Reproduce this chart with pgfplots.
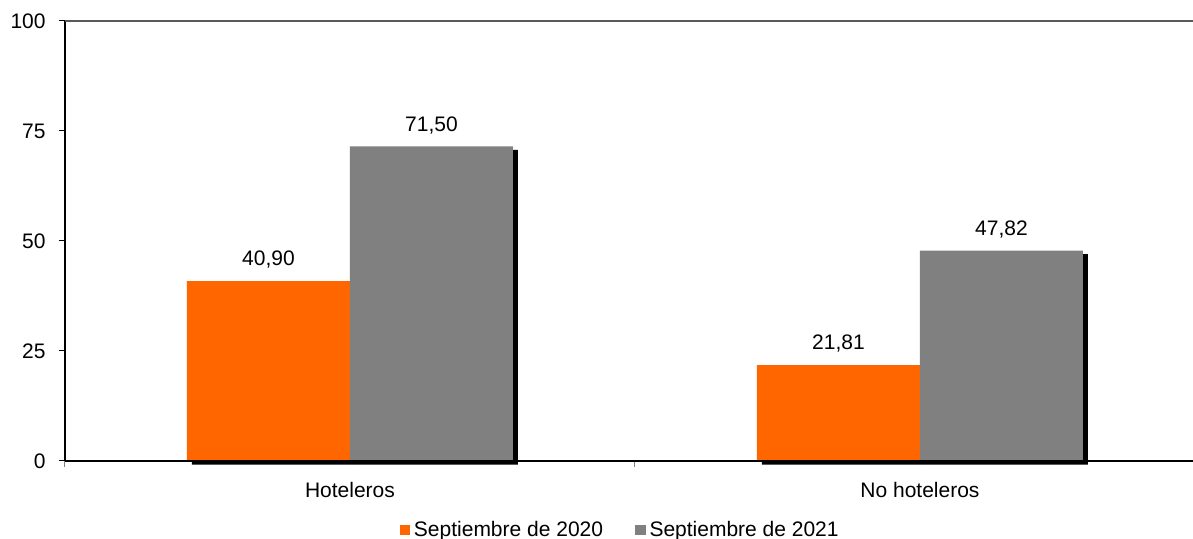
\documentclass[border=0pt]{standalone}
\usepackage{fontspec}
\setmainfont{Liberation Sans}
\usepackage{pgfplots}
\pgfplotsset{compat=1.18}
\definecolor{naranja}{HTML}{FF6600}
\definecolor{gris}{HTML}{808080}
\begin{document}
\fontsize{10.5}{12}\selectfont
\begin{tikzpicture}
\begin{axis}[
  name=ax,
  scale only axis, width=564pt, height=220pt,
  ybar, bar width=81.5pt,
  xmin=-0.5, xmax=1.479, ymin=0, ymax=100,
  clip=false,
  axis x line*=bottom, axis y line*=left,
  axis line style={black, line width=0.6pt},
  ytick={0,25,50,75,100},
  ytick style={black, line width=0.5pt},
  tick align=outside, major tick length=3pt,
  yticklabel style={xshift=-3pt},
  xtick={0,1}, xticklabels={Hoteleros, No hoteleros},
  xtick style={draw=none},
  xticklabel style={yshift=-4pt},
  extra x ticks={-0.5,0.5}, extra x tick labels={},
  extra x tick style={xtick style={draw=gray, line width=0.5pt}},
  /pgf/number format/assume math mode=true,
  legend style={at={(0.493,-0.157)}, anchor=center, draw=none,
    legend columns=2, font=\fontsize{10.5}{12}\selectfont,
    /tikz/every even column/.append style={column sep=14pt}},
  every node near coord/.append style={font=\fontsize{10.5}{12}\selectfont, black, yshift=2.5pt},
]
% sombras
\addplot[fill=black, draw=none, bar shift=-40.75pt, xshift=2.5pt, yshift=-1.8pt, forget plot]
  coordinates {(0,40.90) (1,21.81)};
\addplot[fill=black, draw=none, bar shift=40.75pt, xshift=2.5pt, yshift=-1.8pt, forget plot]
  coordinates {(0,71.50) (1,47.82)};
% barras
\addplot[fill=naranja, draw=none, bar shift=-40.75pt,
  legend image code/.code={\fill[naranja] (0pt,-2.6pt) rectangle (5.2pt,2.6pt);},
  nodes near coords={\pgfmathprintnumber[fixed,fixed zerofill,precision=2,use comma]{\pgfplotspointmeta}}]
  coordinates {(0,40.90) (1,21.81)};
\addlegendentry{Septiembre de 2020}
\addplot[fill=gris, draw=none, bar shift=40.75pt,
  legend image code/.code={\fill[gris] (0pt,-2.6pt) rectangle (5.2pt,2.6pt);},
  nodes near coords={\pgfmathprintnumber[fixed,fixed zerofill,precision=2,use comma]{\pgfplotspointmeta}}]
  coordinates {(0,71.50) (1,47.82)};
\addlegendentry{Septiembre de 2021}
\draw[black!65, line width=0.6pt] (rel axis cs:0,1) -- (rel axis cs:1,1);
\draw[black, line width=0.6pt] (rel axis cs:0,0) -- (rel axis cs:1,0);
\end{axis}
\pgfresetboundingbox
\path ([xshift=-32.5pt,yshift=-39pt]ax.south west) rectangle ([yshift=10.5pt]ax.north east);
\end{tikzpicture}
\end{document}
